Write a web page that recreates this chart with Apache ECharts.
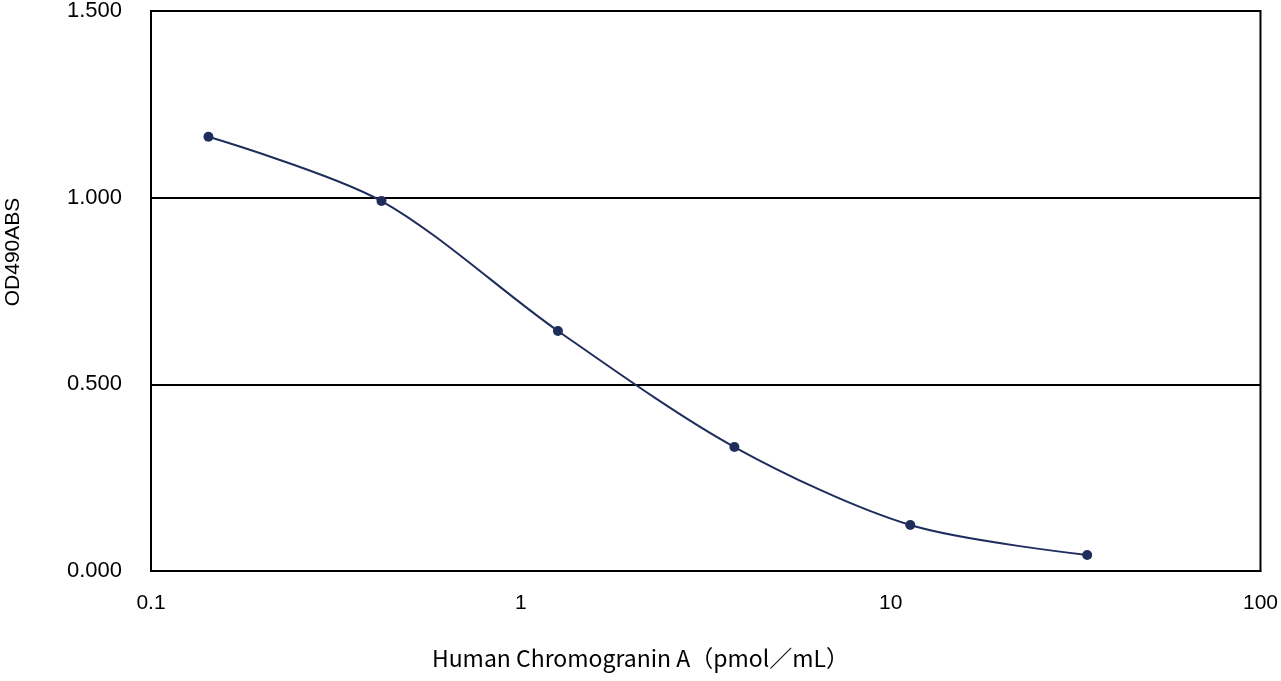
<!DOCTYPE html>
<html>
<head>
<meta charset="utf-8">
<script src="https://cdn.jsdelivr.net/npm/echarts@6/dist/echarts.min.js"></script>
<style>html,body{margin:0;padding:0;background:#fff}#c{width:1281px;height:681px}</style>
</head>
<body>
<div id="c"></div>
<script>
const concentrations = [0.143, 0.42, 1.26, 3.78, 11.3, 34.0];
const odValues = [1.163, 0.991, 0.643, 0.332, 0.123, 0.043];
const yTicks = [0, 0.5, 1.0, 1.5];
const xTicks = [0.1, 1, 10, 100];
const xName = 'Human Chromogranin A（pmol／mL）';
const yName = 'OD490ABS';

const chart = echarts.init(document.getElementById('c'));
chart.setOption({
  animation: false,
  backgroundColor: '#fff',
  grid: { left: 151, top: 11, right: 17, bottom: 110, show: true, borderColor: '#000', borderWidth: 2, backgroundColor: 'transparent' },
  xAxis: {
    type: 'log', logBase: 10, min: xTicks[0], max: xTicks[xTicks.length - 1],
    axisLine: { show: true, lineStyle: { color: '#000', width: 2 } },
    axisTick: { show: false },
    splitLine: { show: false },
    minorSplitLine: { show: false },
    axisLabel: { color: '#000', fontSize: 21, fontFamily: 'Liberation Sans, Arial, sans-serif', margin: 22,
      formatter: v => String(+v) }
  },
  yAxis: {
    type: 'value', min: yTicks[0], max: yTicks[yTicks.length - 1], interval: 0.5,
    axisLine: { show: true, lineStyle: { color: '#000', width: 2 } },
    axisTick: { show: false },
    splitLine: { show: true, lineStyle: { color: '#000', width: 2 } },
    axisLabel: { color: '#000', fontSize: 22, fontFamily: 'Liberation Sans, Arial, sans-serif', margin: 29,
      formatter: v => v.toFixed(3) }
  },
  graphic: [
    { type: 'text', left: 'center', top: 647, style: { text: xName, fontSize: 23, fontFamily: 'Noto Sans CJK JP, sans-serif', fill: '#000' } },
    { type: 'text', x: 3, y: 252, rotation: Math.PI / 2, style: { text: yName, fontSize: 21, fontFamily: 'Liberation Sans, Arial, sans-serif', fill: '#000', align: 'center', verticalAlign: 'top' } }
  ],
  series: [{
    type: 'line',
    data: concentrations.map((c, i) => [c, odValues[i]]),
    smooth: 0.3,
    symbol: 'circle', symbolSize: 10,
    lineStyle: { color: '#1f2d5c', width: 2 },
    itemStyle: { color: '#1f2d5c' }
  }]
});
</script>
</body>
</html>
